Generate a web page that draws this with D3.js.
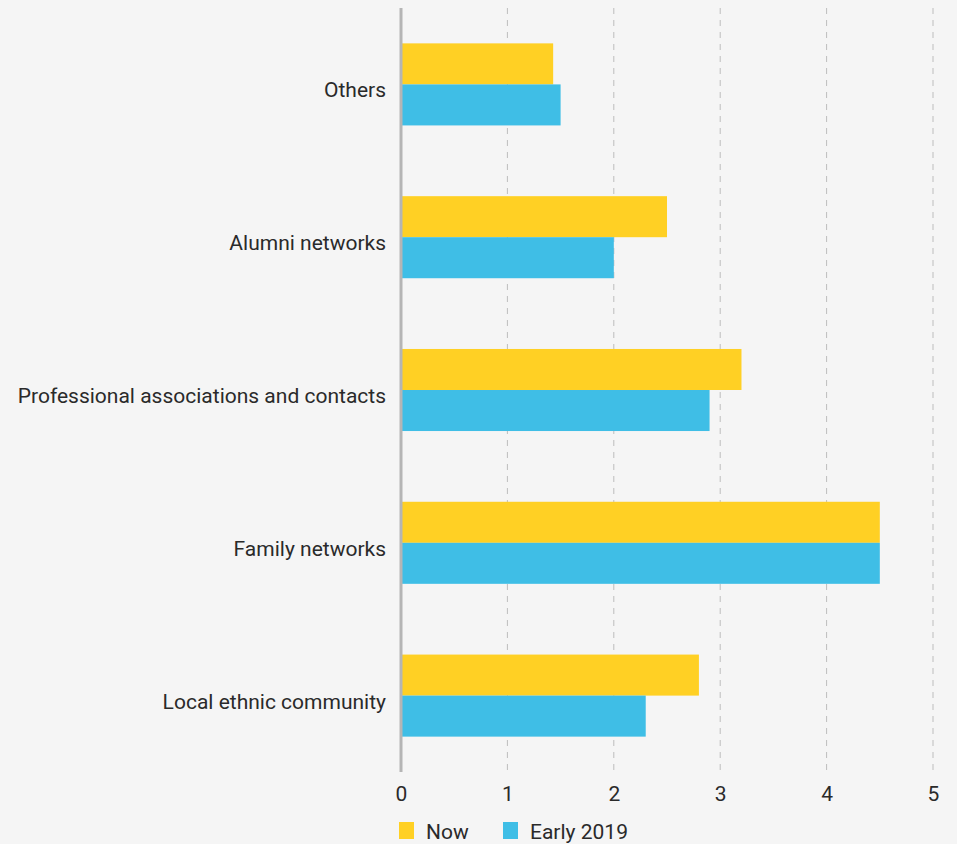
<!DOCTYPE html>
<html><head><meta charset="utf-8">
<script src="https://cdn.jsdelivr.net/npm/d3@7"></script>
<style>
html,body{margin:0;padding:0;background:#f5f5f5;}
svg{display:block;}
text{font-family:Roboto, "Noto Sans", sans-serif;fill:#2a2a2a;}
</style></head>
<body>
<svg id="chart" width="957" height="844"></svg>
<script>
const categories = ["Others","Alumni networks","Professional associations and contacts","Family networks","Local ethnic community"];
const nowValues = [1.43, 2.5, 3.2, 4.5, 2.8];
const early2019Values = [1.5, 2.0, 2.9, 4.5, 2.3];
const seriesNames = ["Now","Early 2019"];
const tickValues = [0,1,2,3,4,5];
const colors = ["#ffd024","#3fbee6"];

const svg = d3.select("#chart");
const x = d3.scaleLinear().domain([0,5]).range([401,933]);
const y = d3.scaleBand().domain(categories).range([8,772]).paddingInner(0.463).paddingOuter(0.2315);
const sub = d3.scaleBand().domain(seriesNames).range([0,y.bandwidth()]);

// gridlines
svg.append("g").selectAll("line").data(tickValues.filter(d=>d>0)).join("line")
  .attr("x1",d=>x(d)).attr("x2",d=>x(d)).attr("y1",8).attr("y2",772)
  .attr("stroke","#bdbdbd").attr("stroke-width",1).attr("stroke-dasharray","6,6");

const data = categories.map((c,i)=>({cat:c, vals:[nowValues[i], early2019Values[i]]}));
const g = svg.append("g").selectAll("g").data(data).join("g")
  .attr("transform",d=>`translate(0,${y(d.cat)})`);
g.selectAll("rect").data(d=>d.vals.map((v,j)=>({v,s:seriesNames[j],c:colors[j]}))).join("rect")
  .attr("x",x(0)).attr("y",d=>sub(d.s)).attr("height",sub.bandwidth())
  .attr("width",d=>x(d.v)-x(0)).attr("fill",d=>d.c);

// category labels
svg.append("g").selectAll("text").data(categories).join("text")
  .attr("x",386).attr("y",d=>y(d)+y.bandwidth()/2+13)
  .attr("text-anchor","end").attr("font-size",21).text(d=>d);

// axis line
svg.append("line").attr("x1",x(0)).attr("x2",x(0)).attr("y1",8).attr("y2",772)
  .attr("stroke","#b5b5b5").attr("stroke-width",3);

// x axis
const xAxis = d3.axisBottom(x).tickValues(tickValues).tickSize(0).tickPadding(0).tickFormat(d3.format("d"));
const ax = svg.append("g").attr("transform","translate(0,801)").call(xAxis);
ax.select(".domain").remove();
ax.selectAll("text").attr("font-size",21).attr("dy",0).attr("y",0)
  .style("font-family","Roboto, 'Noto Sans', sans-serif").attr("fill","#2a2a2a");

// legend
const lg = svg.append("g").selectAll("g").data(seriesNames).join("g")
  .attr("transform",(d,i)=>`translate(${[399,503][i]},822)`);
lg.append("rect").attr("width",15).attr("height",17).attr("fill",(d,i)=>colors[i]);
lg.append("text").attr("x",27).attr("y",16.5).attr("font-size",21).text(d=>d);
</script>
</body></html>
